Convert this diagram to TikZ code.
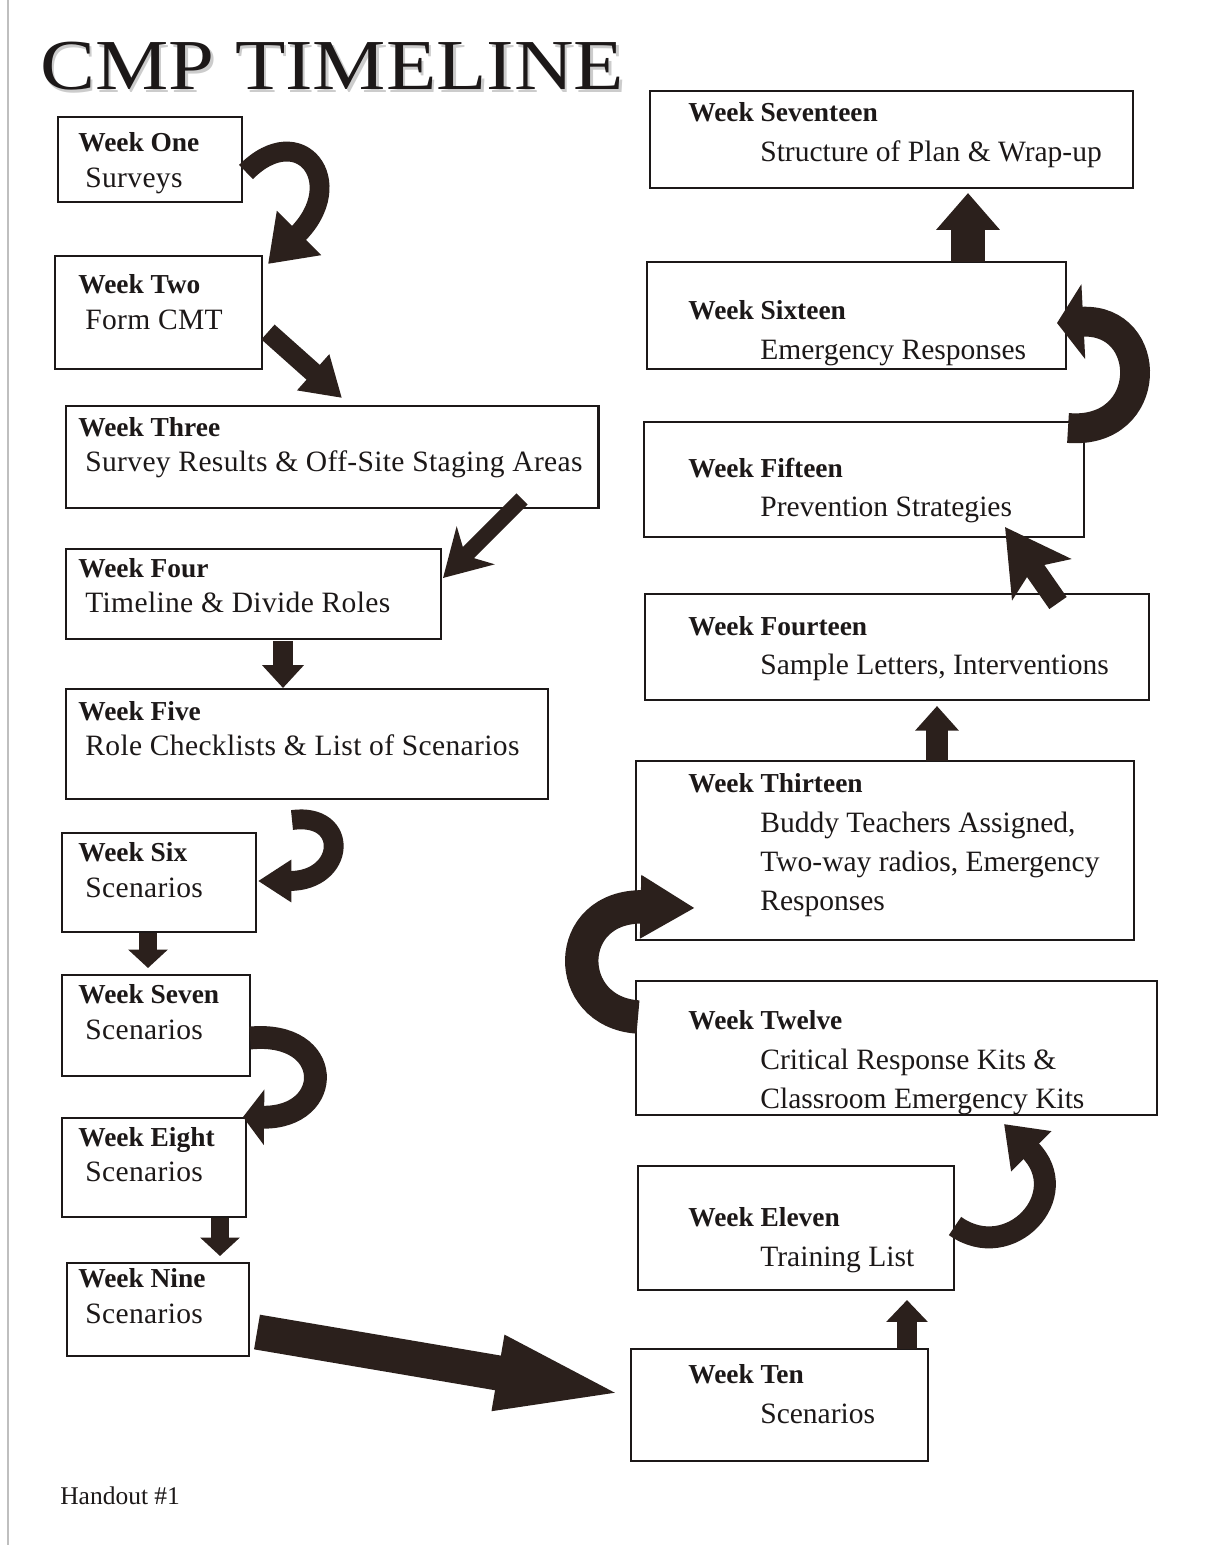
\documentclass[tikz,border=0pt]{standalone}
\usepackage{fontspec}
\setmainfont{Liberation Serif}
\newfontfamily\leftfont[LetterSpace=1.2]{Liberation Serif}
\usetikzlibrary{arrows.meta}
\definecolor{arrowc}{RGB}{43,32,28}
\definecolor{inkc}{RGB}{28,24,24}
\begin{document}
\begin{tikzpicture}[x=0.02cm,y=-0.02cm,
	wbox/.style={draw=inkc,line width=1.6pt,inner sep=0pt,outer sep=0pt,anchor=north west},
	wk/.style={anchor=base west,inner sep=0pt,text=inkc,font=\fontsize{15.6}{18}\selectfont\bfseries},
	wt/.style={anchor=base west,inner sep=0pt,text=inkc,font=\fontsize{16.8}{20}\selectfont},
	wl/.style={wt,font=\fontsize{16.8}{20}\selectfont\leftfont},
	blk/.style n args={3}{draw=arrowc,line width=#1,-{Triangle[length=#2,width=#3]}},
	stl/.style n args={3}{draw=arrowc,line width=#1,-{Stealth[length=#2,width=#3,inset=8pt]}}]
			\fill[white] (0,0) rectangle (1208,1551);
			\useasboundingbox (0,0) rectangle (1208,1551);
			\draw[gray!50,line width=0.6pt] (8,0) -- (8,1545);
			\node[anchor=base west,inner sep=0pt,text=gray!40,font=\fontsize{40.8}{44}\selectfont] (titleshade) at (42.5,92.5) {\scalebox{1.15}[1]{CMP TIMELINE}};
			\node[anchor=base west,inner sep=0pt,text=inkc,font=\fontsize{40.8}{44}\selectfont] (title) at (40,90) {\scalebox{1.15}[1]{CMP TIMELINE}};
			\node[wbox,minimum width=3.68cm,minimum height=1.70cm] (w1) at (58,117) {};
			\node[wbox,minimum width=4.14cm,minimum height=2.26cm] (w2) at (55,256) {};
			\node[wbox,minimum width=10.66cm,minimum height=2.04cm] (w3) at (66,406) {};
			\node[wbox,minimum width=7.50cm,minimum height=1.80cm] (w4) at (66,549) {};
			\node[wbox,minimum width=9.64cm,minimum height=2.20cm] (w5) at (66,689) {};
			\node[wbox,minimum width=3.88cm,minimum height=1.98cm] (w6) at (62,833) {};
			\node[wbox,minimum width=3.76cm,minimum height=2.02cm] (w7) at (62,975) {};
			\node[wbox,minimum width=3.68cm,minimum height=1.98cm] (w8) at (62,1118) {};
			\node[wbox,minimum width=3.64cm,minimum height=1.86cm] (w9) at (67,1263) {};
			\node[wbox,minimum width=5.94cm,minimum height=2.24cm] (w10) at (631,1349) {};
			\node[wbox,minimum width=6.32cm,minimum height=2.48cm] (w11) at (638,1166) {};
			\node[wbox,minimum width=10.42cm,minimum height=2.68cm] (w12) at (636,981) {};
			\node[wbox,minimum width=9.96cm,minimum height=3.58cm] (w13) at (636,761) {};
			\node[wbox,minimum width=10.08cm,minimum height=2.12cm] (w14) at (645,594) {};
			\node[wbox,minimum width=8.80cm,minimum height=2.30cm] (w15) at (644,422) {};
			\node[wbox,minimum width=8.38cm,minimum height=2.14cm] (w16) at (647,262) {};
			\node[wbox,minimum width=9.66cm,minimum height=1.94cm] (w17) at (650,91) {};
			\node[wk] (w1a) at (78,152) {Week One};
			\node[wl] (w1b) at (85,188) {Surveys};
			\node[wk] (w2a) at (78,293) {Week Two};
			\node[wl] (w2b) at (85,329) {Form CMT};
			\node[wk] (w3a) at (78,436) {Week Three};
			\node[wl] (w3b) at (85,471) {Survey Results \& Off-Site Staging Areas};
			\node[wk] (w4a) at (78,577) {Week Four};
			\node[wl] (w4b) at (85,612) {Timeline \& Divide Roles};
			\node[wk] (w5a) at (78,720) {Week Five};
			\node[wl] (w5b) at (85,755) {Role Checklists \& List of Scenarios};
			\node[wk] (w6a) at (78,861) {Week Six};
			\node[wl] (w6b) at (85,897) {Scenarios};
			\node[wk] (w7a) at (78,1003) {Week Seven};
			\node[wl] (w7b) at (85,1039) {Scenarios};
			\node[wk] (w8a) at (78,1146) {Week Eight};
			\node[wl] (w8b) at (85,1181) {Scenarios};
			\node[wk] (w9a) at (78,1287) {Week Nine};
			\node[wl] (w9b) at (85,1323) {Scenarios};
			\node[wk] (w10a) at (688,1383) {Week Ten};
			\node[wt] (w10b) at (760,1423) {Scenarios};
			\node[wk] (w11a) at (688,1226) {Week Eleven};
			\node[wt] (w11b) at (760,1266) {Training List};
			\node[wk] (w12a) at (688,1029) {Week Twelve};
			\node[wt] (w12b) at (760,1069) {Critical Response Kits \&};
			\node[wt] (w12c) at (760,1108) {Classroom Emergency Kits};
			\node[wk] (w13a) at (688,792) {Week Thirteen};
			\node[wt] (w13b) at (760,832) {Buddy Teachers Assigned,};
			\node[wt] (w13c) at (760,871) {Two-way radios, Emergency};
			\node[wt] (w13d) at (760,910) {Responses};
			\node[wk] (w14a) at (688,635) {Week Fourteen};
			\node[wt] (w14b) at (760,674) {Sample Letters, Interventions};
			\node[wk] (w15a) at (688,477) {Week Fifteen};
			\node[wt] (w15b) at (760,516) {Prevention Strategies};
			\node[wk] (w16a) at (688,319) {Week Sixteen};
			\node[wt] (w16b) at (760,359) {Emergency Responses};
			\node[wk] (w17a) at (688,122) {Week Seventeen};
			\node[wt] (w17b) at (760,162) {Structure of Plan \& Wrap-up};
			\node[anchor=base west,inner sep=0pt,text=inkc,font=\fontsize{14.5}{17}\selectfont] (handout) at (60,1504) {Handout \#1};
			\coordinate (a1s) at (246,172);
			\coordinate (a1e) at (268,264);
			\coordinate (a2s) at (268,332);
			\coordinate (a2e) at (342,398);
			\coordinate (a3s) at (522,499);
			\coordinate (a3e) at (443,578);
			\coordinate (a4s) at (283,641);
			\coordinate (a4e) at (283,688);
			\coordinate (a5s) at (292,820);
			\coordinate (a5e) at (258,881);
			\coordinate (a6s) at (148,933);
			\coordinate (a6e) at (148,968);
			\coordinate (a7s) at (250,1038);
			\coordinate (a7e) at (243,1117);
			\coordinate (a8s) at (220,1218);
			\coordinate (a8e) at (220,1256);
			\coordinate (a9s) at (257,1332);
			\coordinate (a9e) at (640,1397);
			\coordinate (a10s) at (907,1349);
			\coordinate (a10e) at (907,1300);
			\coordinate (a11s) at (955,1226);
			\coordinate (a11e) at (1004,1124);
			\coordinate (a12s) at (638,1017);
			\coordinate (a12e) at (695,908);
			\coordinate (a13s) at (937,761);
			\coordinate (a13e) at (937,706);
			\coordinate (a14s) at (1058,603);
			\coordinate (a14e) at (1005,527);
			\coordinate (a15s) at (1068,428);
			\coordinate (a15e) at (1057,323);
			\coordinate (a16s) at (968,262);
			\coordinate (a16e) at (968,193);
			\draw[blk={11.3pt}{25pt}{34pt}] (a1s) .. controls (300,118) and (350,182) .. (a1e);
			\draw[blk={11.3pt}{22pt}{26pt}] (a2s) -- (a2e);
			\draw[stl={9pt}{26pt}{30pt}] (a3s) -- (a3e);
			\draw[blk={11pt}{13pt}{23pt}] (a4s) -- (a4e);
			\draw[blk={11.3pt}{19pt}{23pt}] (a5s) .. controls (350,812) and (346,881) .. (a5e);
			\draw[blk={10pt}{10.5pt}{22pt}] (a6s) -- (a6e);
			\draw[blk={13pt}{12pt}{31pt}] (a7s) .. controls (335,1030) and (335,1118) .. (a7e);
			\draw[blk={10pt}{10.5pt}{22pt}] (a8s) -- (a8e);
			\draw[blk={20pt}{82pt}{36pt}] (a9s) -- (a9e);
			\draw[blk={11pt}{12.5pt}{23pt}] (a10s) -- (a10e);
			\draw[blk={12.5pt}{22pt}{31pt}] (a11s) .. controls (1010,1265) and (1075,1195) .. (a11e);
			\draw[blk={19pt}{31pt}{34pt}] (a12s) .. controls (562,1012) and (562,905) .. (a12e);
			\draw[blk={12.5pt}{14pt}{24pt}] (a13s) -- (a13e);
			\draw[stl={12pt}{36pt}{40pt}] (a14s) -- (a14e);
			\draw[blk={17pt}{15pt}{42pt}] (a15s) .. controls (1155,435) and (1155,318) .. (a15e);
			\draw[blk={19pt}{21pt}{35pt}] (a16s) -- (a16e);
\end{tikzpicture}
\end{document}
